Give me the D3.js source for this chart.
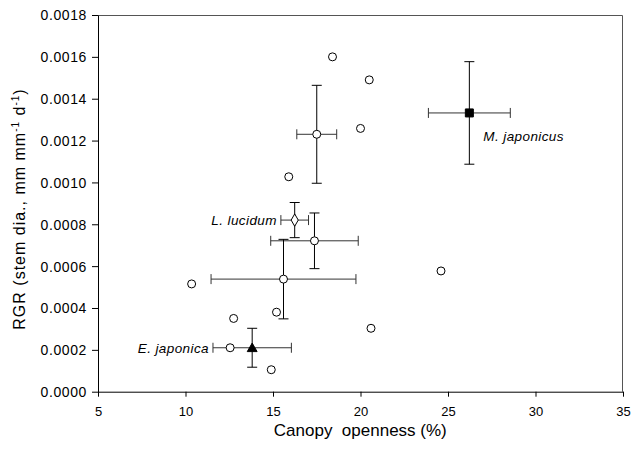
<!DOCTYPE html>
<html>
<head>
<meta charset="utf-8">
<script src="https://cdn.jsdelivr.net/npm/d3@7"></script>
<style>
  body { margin: 0; background: #fff; }
  text { font-family: "Liberation Sans", Arial, sans-serif; fill: #000; }
</style>
</head>
<body>
<div id="chart"></div>
<script>
// individual plots (open circles)
var plotOpenness = [18.4, 20.5, 20.0, 15.9, 10.35, 12.75, 15.2, 20.6, 24.6, 12.55, 14.9];
var plotRGR = [0.00160, 0.00149, 0.001258, 0.001027, 0.000515, 0.00035, 0.00038, 0.000303, 0.000577, 0.00021, 0.000105];

// group means with SE
var meanNames = ["", "", "", "L. lucidum", "M. japonicus", "E. japonica"];
var meanShape = ["circle", "circle", "circle", "diamond", "square", "triangle"];
var meanOpenness = [17.5, 17.37, 15.6, 16.24, 26.22, 13.81];
var meanOpennessErr = [1.14, 2.5, 4.14, 0.79, 2.34, 2.24];
var meanRGR = [0.00123, 0.000721, 0.000538, 0.00082, 0.001332, 0.00021];
var meanRGRErr = [0.000234, 0.000133, 0.00019, 0.000084, 0.000245, 0.000093];

var xTicks = [5, 10, 15, 20, 25, 30, 35];
var yTicks = [0, 0.0002, 0.0004, 0.0006, 0.0008, 0.0010, 0.0012, 0.0014, 0.0016, 0.0018];

var svgWidth = 632, svgHeight = 457;
var margin = {top: 15, right: 9, bottom: 65.3, left: 98};
var width = svgWidth - margin.left - margin.right;
var height = svgHeight - margin.top - margin.bottom;

var svg = d3.select("#chart").append("svg")
    .attr("width", svgWidth)
    .attr("height", svgHeight);

var g = svg.append("g")
    .attr("transform", `translate(${margin.left},${margin.top})`);

var x = d3.scaleLinear().domain([5, 35]).range([0, width]);
var y = d3.scaleLinear().domain([0, 0.0018]).range([height, 0]);

// frame (top and right)
g.append("path")
    .attr("d", `M0,0.5H${width - 0.5}V${height}`)
    .attr("fill", "none")
    .attr("stroke", "#555")
    .attr("stroke-width", 1);

// x axis
var xAxis = g.append("g")
    .attr("transform", `translate(0,${height})`)
    .call(d3.axisBottom(x).tickValues(xTicks).tickSize(5).tickPadding(10).tickSizeOuter(0));
xAxis.selectAll("text").style("font-size", "13px");

// y axis
var yAxis = g.append("g")
    .call(d3.axisLeft(y).tickValues(yTicks).tickFormat(d3.format(".4f")).tickSize(6).tickPadding(5).tickSizeOuter(0));
yAxis.selectAll("text").style("font-size", "14px").style("letter-spacing", "0.6px").attr("dy", "0.35em");

svg.selectAll(".domain, .tick line").attr("stroke", "#000");

// axis titles
svg.append("text")
    .attr("x", 360.3)
    .attr("y", 435.5)
    .attr("text-anchor", "middle")
    .style("font-size", "17px")
    .style("white-space", "pre")
    .text("Canopy  openness (%)");

var yTitle = svg.append("text")
    .attr("transform", "translate(25,209) rotate(-90)")
    .attr("text-anchor", "middle")
    .style("font-size", "16px")
    .style("letter-spacing", "1px");
yTitle.append("tspan").text("RGR (stem dia., mm mm");
yTitle.append("tspan").attr("dy", -6).style("font-size", "10px").text("-1");
yTitle.append("tspan").attr("dy", 6).text(" d");
yTitle.append("tspan").attr("dy", -6).style("font-size", "10px").text("-1");
yTitle.append("tspan").attr("dy", 6).text(")");

// error bars
var cap = 5;
var means = meanOpenness.map(function(d, i) {
    return {x: d, xe: meanOpennessErr[i], y: meanRGR[i], ye: meanRGRErr[i], shape: meanShape[i], name: meanNames[i]};
});

var bars = g.append("g");
means.forEach(function(d) {
    var cx = x(d.x), cy = y(d.y);
    var x0 = x(d.x - d.xe), x1 = x(d.x + d.xe);
    var y0 = y(d.y + d.ye), y1 = y(d.y - d.ye);
    bars.append("path")
        .attr("d", `M${x0},${cy}H${x1}M${x0},${cy - cap}V${cy + cap}M${x1},${cy - cap}V${cy + cap}`)
        .attr("stroke", "#333").attr("fill", "none");
    bars.append("path")
        .attr("d", `M${cx},${y0}V${y1}M${cx - cap},${y0}H${cx + cap}M${cx - cap},${y1}H${cx + cap}`)
        .attr("stroke", "#000").attr("fill", "none");
});

// individual points
g.selectAll("circle.plot")
    .data(plotOpenness)
    .enter()
    .append("circle")
    .attr("class", "plot")
    .attr("cx", d => x(d))
    .attr("cy", (d, i) => y(plotRGR[i]))
    .attr("r", 4)
    .attr("fill", "#fff")
    .attr("stroke", "#000");

// mean markers
var symbolType = {circle: d3.symbolCircle, diamond: d3.symbolDiamond, square: d3.symbolSquare, triangle: d3.symbolTriangle};
var symbolSize = {circle: 50, diamond: 44, square: 64, triangle: 42};
var symbolFill = {circle: "#fff", diamond: "#fff", square: "#000", triangle: "#000"};

g.selectAll("path.mean")
    .data(means)
    .enter()
    .append("path")
    .attr("class", "mean")
    .attr("transform", d => `translate(${x(d.x)},${y(d.y) + (d.shape === "triangle" ? 1 : 0)})`)
    .attr("d", d => d3.symbol().type(symbolType[d.shape]).size(symbolSize[d.shape])())
    .attr("fill", d => symbolFill[d.shape])
    .attr("stroke", "#000");

// species labels
means.forEach(function(d) {
    if (!d.name) return;
    var t = g.append("text")
        .style("font-size", "13.5px")
        .style("font-style", "italic")
        .style("letter-spacing", "0.4px")
        .text(d.name);
    if (d.shape === "square") {
        t.attr("x", x(d.x) + 14).attr("y", y(d.y) + 28);
    } else {
        t.attr("x", x(d.x - d.xe) - 4).attr("y", y(d.y) + 5).attr("text-anchor", "end");
    }
});
</script>
</body>
</html>
